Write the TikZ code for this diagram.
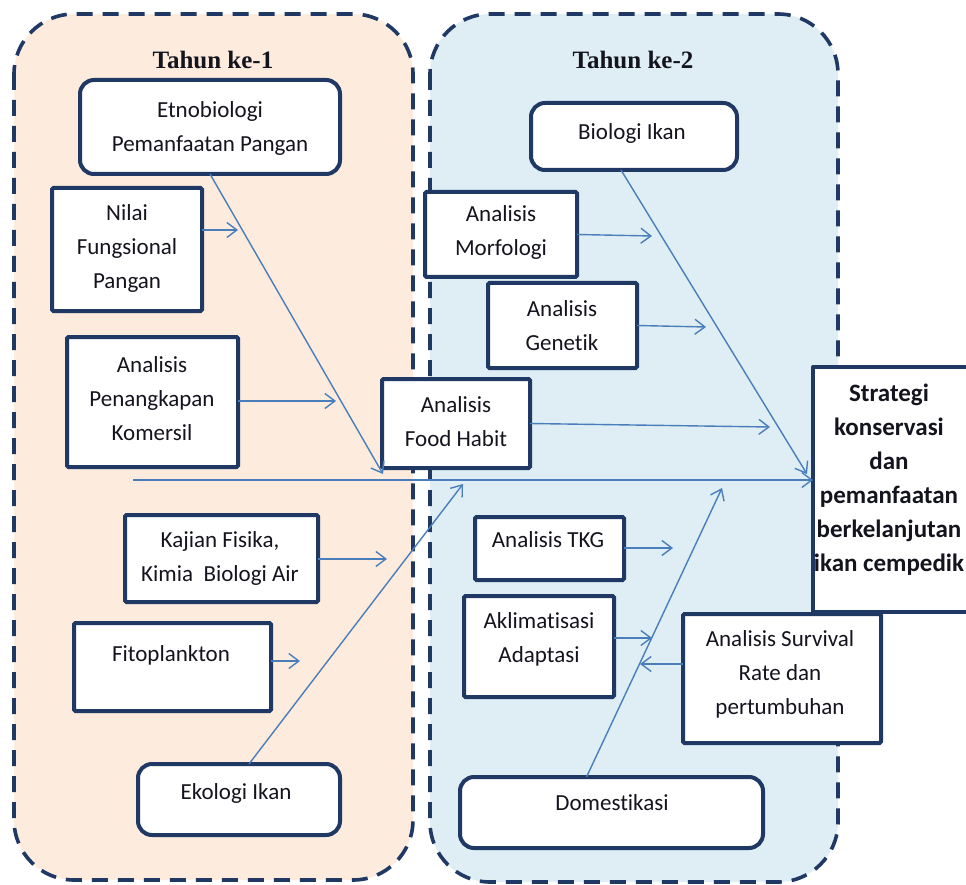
\documentclass[tikz,border=0pt]{standalone}
\usepackage{fontspec}
\setmainfont{Carlito}[Ligatures=NoCommon]
\newfontfamily\titlefont{Liberation Serif}
\usetikzlibrary{arrows.meta,calc}
\definecolor{navy}{RGB}{31,56,100}
\definecolor{lnc}{RGB}{74,126,187}
\definecolor{peach}{RGB}{253,235,221}
\definecolor{pale}{RGB}{222,238,244}
\definecolor{txt}{RGB}{20,20,30}
\begin{document}
\begin{tikzpicture}[x=1pt,y=-1pt,
  panel/.style={draw=navy, line width=3.6pt, dash pattern=on 16pt off 10pt, rounded corners=60pt},
  sqbox/.style={draw=navy, line width=4pt, fill=white, rounded corners=1.5pt, inner sep=0pt, outer sep=0pt},
  rbox/.style={sqbox, rounded corners=14pt},
  lbl/.style={font=\fontsize{23}{34}\selectfont, align=center, inner sep=0pt, text=txt},
  blbl/.style={lbl, font=\bfseries\fontsize{25}{34}\selectfont},
  ttl/.style={font=\titlefont\bfseries\fontsize{25}{30}\selectfont, inner sep=0pt, text=txt},
  conn/.style={draw=lnc, line width=1.4pt, -{Straight Barb[length=10pt,width=15pt,line width=1.4pt]}}]
\useasboundingbox (0,0) rectangle (966,885);
\clip (0,0) rectangle (966,885);
\fill[white] (0,0) rectangle (966,885);

% panels
\draw[panel, fill=peach] (14,14) rectangle (413,880);
\draw[panel, fill=pale] (430,14) rectangle (838,882);
\node[ttl] (t1) at (213,60) {Tahun ke-1};
\node[ttl] (t2) at (633,60) {Tahun ke-2};

% boxes
\node[rbox, minimum width=260pt, minimum height=94pt] (etno) at (210,127) {};
\node[sqbox, minimum width=150pt, minimum height=123pt] (nilai) at (127,249.5) {};
\node[sqbox, minimum width=171pt, minimum height=130pt] (penang) at (152.5,402) {};
\node[sqbox, minimum width=193pt, minimum height=87pt] (kajian) at (221.5,558.5) {};
\node[sqbox, minimum width=197pt, minimum height=88pt] (fito) at (172.5,667) {};
\node[rbox, minimum width=202pt, minimum height=71pt] (ekologi) at (239,799.5) {};
\node[sqbox, minimum width=148pt, minimum height=89pt] (food) at (456,423.5) {};
\node[rbox, minimum width=206pt, minimum height=67pt] (biologi) at (634,136.5) {};
\node[sqbox, minimum width=152pt, minimum height=85pt] (morf) at (501,234.5) {};
\node[sqbox, minimum width=149pt, minimum height=85pt] (genetik) at (562.5,325.5) {};
\node[sqbox, minimum width=149pt, minimum height=63pt] (tkg) at (549.5,548.5) {};
\node[sqbox, minimum width=150pt, minimum height=101pt] (aklim) at (539,646.5) {};
\node[sqbox, minimum width=198pt, minimum height=129pt] (surv) at (782,678.5) {};
\node[rbox, minimum width=303pt, minimum height=71pt] (domest) at (611.5,812.5) {};
\node[fill=white, inner sep=0pt, outer sep=0pt, minimum width=220pt, minimum height=245pt] (strat) at (923,489.5) {};
\draw[navy, line width=4pt, line join=round] (strat.north east) -- (strat.north west) -- (strat.south west) -- (strat.south east);

% texts
\node[lbl] (etno-t) at (210,128) {Etnobiologi\\Pemanfaatan Pangan};
\node[lbl] (nilai-t) at (127,248) {Nilai\\Fungsional\\Pangan};
\node[lbl] (penang-t) at (152,399) {Analisis\\Penangkapan\\Komersil};
\node[lbl] (kajian-t) at (220,558) {Kajian Fisika,\\Kimia\ \ Biologi Air};
\node[lbl] (fito-t) at (171,655) {Fitoplankton};
\node[lbl] (eko-t) at (236,793) {Ekologi Ikan};
\node[lbl] (food-t) at (456,422) {Analisis\\Food Habit};
\node[lbl] (bio-t) at (632,133) {Biologi Ikan};
\node[lbl] (morf-t) at (501,232) {Analisis\\Morfologi};
\node[lbl] (gen-t) at (562,326) {Analisis\\Genetik};
\node[lbl] (tkg-t) at (548,540) {Analisis TKG};
\node[lbl] (akl-t) at (539,639) {Aklimatisasi\\Adaptasi};
\node[lbl] (surv-t) at (780,674) {Analisis Survival\\Rate dan\\pertumbuhan};
\node[lbl] (dom-t) at (612,803) {Domestikasi};
\node[blbl] (strat-t) at (889,480) {Strategi\\konservasi\\dan\\pemanfaatan\\berkelanjutan\\ikan cempedik};

% connector end points
\coordinate (spS) at (133,480);
\coordinate (etE) at (383,474);
\coordinate (nilE) at (238,230);
\coordinate (penE) at (336,401);
\coordinate (kajE) at (387,559);
\coordinate (fitE) at (300,661);
\coordinate (ekoE) at (463,484);
\coordinate (fooE) at (770,427);
\coordinate (bioE) at (807,474);
\coordinate (morE) at (652,236);
\coordinate (genE) at (706,327);
\coordinate (tkgE) at (673,548);
\coordinate (domE) at (722,488);
\coordinate (akE) at (652,638);
\coordinate (svE) at (640,664);

% connectors
\draw[conn] (spS) -- (spS -| strat.west);
\draw[conn] (etno.south) -- (etE);
\draw[conn] (nilai.east |- nilE) -- (nilE);
\draw[conn] (penang.east |- penE) -- (penE);
\draw[conn] (kajian.east |- kajE) -- (kajE);
\draw[conn] (fito.east |- fitE) -- (fitE);
\draw[conn] ([xshift=10pt]ekologi.north) -- (ekoE);
\draw[conn] (food.east) -- (fooE);
\draw[conn] ([xshift=-13pt]biologi.south) -- (bioE);
\draw[conn] (morf.east) -- (morE);
\draw[conn] (genetik.east) -- (genE);
\draw[conn] (tkg.east |- tkgE) -- (tkgE);
\draw[conn] ([xshift=-25pt]domest.north) -- (domE);
\draw[conn] (aklim.east |- akE) -- (akE);
\draw[conn] (surv.west |- svE) -- (svE);
\end{tikzpicture}
\end{document}
